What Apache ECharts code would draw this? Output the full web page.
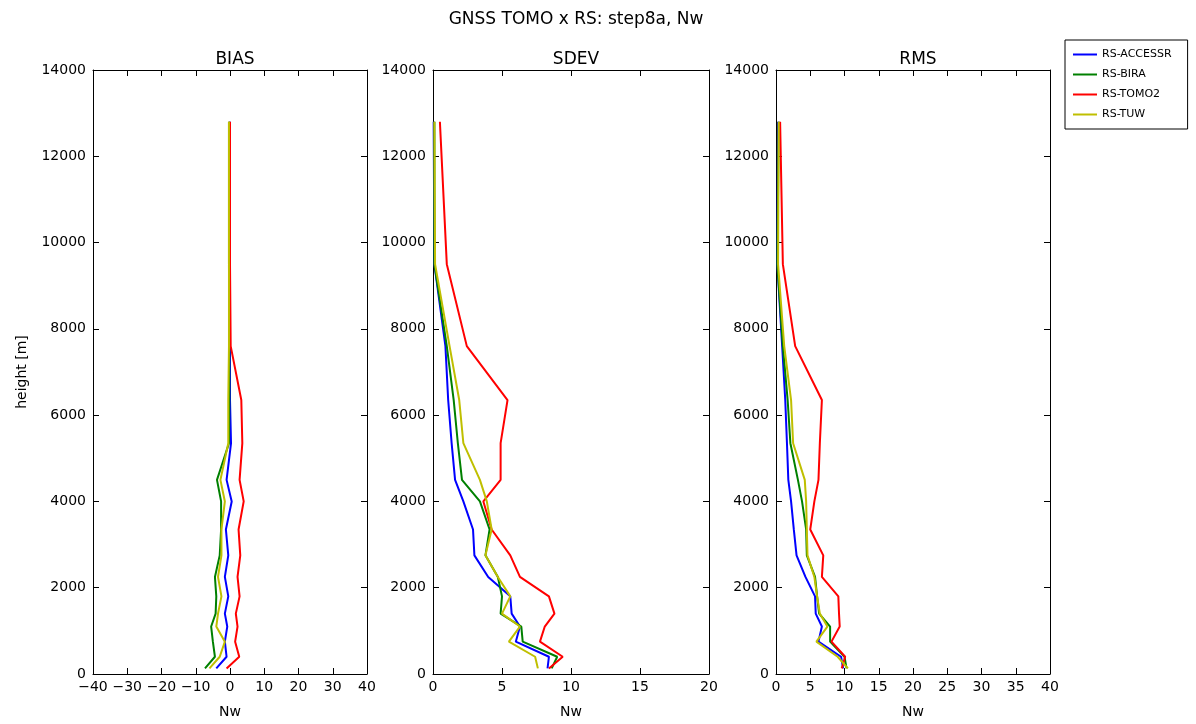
<!DOCTYPE html>
<html><head><meta charset="utf-8">
<script src="https://cdn.jsdelivr.net/npm/echarts@6/dist/echarts.min.js"></script>
<style>html,body{margin:0;padding:0;background:#fff}#c{width:1196px;height:724px}</style>
</head><body><div id="c"></div>
<script>
// Height levels [m]
const heights = [130, 400, 750, 1100, 1400, 1800, 2250, 2750, 3350, 4000, 4500, 5350, 6350, 7600, 9500, 12800];
const seriesNames = ['RS-ACCESSR', 'RS-BIRA', 'RS-TOMO2', 'RS-TUW'];
const panelTitles = ['BIAS', 'SDEV', 'RMS'];

// BIAS values (Nw)
const biasACCESSR = [-4.0, -1.0, -1.5, -0.8, -1.5, -0.5, -1.5, -0.5, -1.2, 0.5, -1.0, 0.3, 0.0, 0.0, 0.0, 0.0];
const biasBIRA    = [-7.3, -4.4, -5.0, -5.5, -4.2, -4.0, -4.4, -3.0, -2.6, -2.6, -3.8, -0.3, -0.2, -0.2, -0.3, -0.3];
const biasTOMO2   = [-1.0, 2.7, 1.5, 2.2, 1.7, 2.8, 2.2, 3.0, 2.5, 4.0, 2.8, 3.6, 3.3, 0.2, 0.0, 0.0];
const biasTUW     = [-6.0, -3.0, -1.5, -4.0, -3.5, -2.5, -3.5, -2.5, -2.5, -1.5, -2.8, -0.5, -0.5, -0.3, -0.3, -0.3];

// SDEV values (Nw)
const sdevACCESSR = [8.3, 8.4, 6.0, 6.3, 5.7, 5.6, 4.0, 3.0, 2.9, 2.2, 1.6, 1.35, 1.1, 0.9, 0.1, 0.05];
const sdevBIRA    = [8.6, 9.0, 6.5, 6.4, 4.9, 5.0, 4.7, 3.8, 4.1, 3.4, 2.1, 1.8, 1.5, 1.0, 0.1, 0.1];
const sdevTOMO2   = [8.4, 9.4, 7.75, 8.1, 8.8, 8.4, 6.3, 5.6, 4.25, 3.65, 4.9, 4.9, 5.4, 2.45, 1.0, 0.5];
const sdevTUW     = [7.6, 7.4, 5.5, 6.3, 5.0, 5.6, 4.7, 3.8, 4.25, 3.9, 3.4, 2.2, 1.9, 1.2, 0.15, 0.1];

// RMS values (Nw)
const rmsACCESSR = [9.8, 9.5, 6.2, 6.7, 5.8, 5.7, 4.3, 3.0, 2.6, 2.2, 1.8, 1.6, 1.35, 0.9, 0.2, 0.3];
const rmsBIRA    = [10.3, 10.0, 7.9, 7.9, 6.3, 6.0, 5.7, 4.5, 4.4, 3.8, 3.2, 2.1, 1.7, 1.0, 0.2, 0.4];
const rmsTOMO2   = [9.6, 10.1, 8.1, 9.3, 9.2, 9.1, 6.7, 6.9, 5.0, 5.6, 6.2, 6.4, 6.7, 2.8, 1.0, 0.6];
const rmsTUW     = [10.5, 9.0, 5.9, 7.5, 6.4, 6.0, 5.6, 4.6, 4.5, 4.4, 4.2, 2.5, 2.2, 1.2, 0.3, 0.4];

const panelData = [
  [biasACCESSR, biasBIRA, biasTOMO2, biasTUW],
  [sdevACCESSR, sdevBIRA, sdevTOMO2, sdevTUW],
  [rmsACCESSR, rmsBIRA, rmsTOMO2, rmsTUW]
];
const xRanges = [[-40, 40, 10], [0, 20, 5], [0, 40, 5]];
const colors = ['#0000ff', '#008000', '#ff0000', '#bfbf00'];

const FONT = 'DejaVu Sans';
const grids = [
  {left: 93, width: 274, top: 70, height: 609},
  {left: 433, width: 276, top: 70, height: 609},
  {left: 776, width: 274, top: 70, height: 609}
];
const fmt = v => String(v).replace('-', '\u2212');

const xAxes = [], yAxes = [], series = [], titles = [];
titles.push({text: 'GNSS TOMO x RS: step8a, Nw', left: 571, top: 6, textAlign: 'center',
  textStyle: {fontFamily: FONT, fontSize: 17, fontWeight: 'normal', color: '#000'}});
grids.forEach((g, i) => {
  titles.push({text: panelTitles[i], left: g.left + g.width / 2, top: 46, textAlign: 'center',
    textStyle: {fontFamily: FONT, fontSize: 17, fontWeight: 'normal', color: '#000'}});
  const r = xRanges[i];
  const common = {type: 'value', min: r[0], max: r[1], interval: r[2], gridIndex: i,
    axisLine: {show: true, onZero: false, lineStyle: {color: '#000', width: 1}},
    axisTick: {show: true, inside: true, length: 6, lineStyle: {color: '#000'}},
    splitLine: {show: false}};
  xAxes.push(Object.assign({}, common, {position: 'bottom',
    axisLabel: {color: '#000', fontFamily: FONT, fontSize: 14, margin: 6, formatter: fmt},
    name: 'Nw', nameLocation: 'middle', nameGap: 31,
    nameTextStyle: {color: '#000', fontFamily: FONT, fontSize: 14}}));
  xAxes.push(Object.assign({}, common, {position: 'top', axisLabel: {show: false}}));
  const ycommon = {type: 'value', min: 0, max: 14000, interval: 2000, gridIndex: i,
    axisLine: {show: true, onZero: false, lineStyle: {color: '#000', width: 1}},
    axisTick: {show: true, inside: true, length: 6, lineStyle: {color: '#000'}},
    splitLine: {show: false}};
  const yl = Object.assign({}, ycommon, {position: 'left',
    axisLabel: {color: '#000', fontFamily: FONT, fontSize: 14, margin: 7, formatter: fmt}});
  if (i === 0) {
    yl.name = 'height [m]'; yl.nameLocation = 'middle'; yl.nameGap = 64; yl.nameRotate = 90;
    yl.nameTextStyle = {color: '#000', fontFamily: FONT, fontSize: 14};
  }
  yAxes.push(yl);
  yAxes.push(Object.assign({}, ycommon, {position: 'right', axisLabel: {show: false}}));
  panelData[i].forEach((vals, k) => {
    series.push({
      name: seriesNames[k], type: 'line', xAxisIndex: 2 * i, yAxisIndex: 2 * i,
      data: vals.map((v, j) => [v, heights[j]]),
      symbol: 'none', showSymbol: false, smooth: false,
      lineStyle: {color: colors[k], width: 2}, itemStyle: {color: colors[k]},
      animation: false, z: 2 + k
    });
  });
});

const chart = echarts.init(document.getElementById('c'));
chart.setOption({
  backgroundColor: '#fff',
  animation: false,
  title: titles,
  grid: grids.map(g => Object.assign({show: false}, g)),
  xAxis: xAxes,
  yAxis: yAxes,
  legend: {
    data: seriesNames, orient: 'vertical', left: 1065, top: 40, width: 124,
    icon: 'rect', itemWidth: 24, itemHeight: 2, itemGap: 9,
    backgroundColor: '#fff', borderColor: '#000', borderWidth: 1, borderRadius: 0,
    padding: [9, 16, 9, 8],
    textStyle: {fontFamily: FONT, fontSize: 11, color: '#000'}
  },
  series: series
});
</script></body></html>
